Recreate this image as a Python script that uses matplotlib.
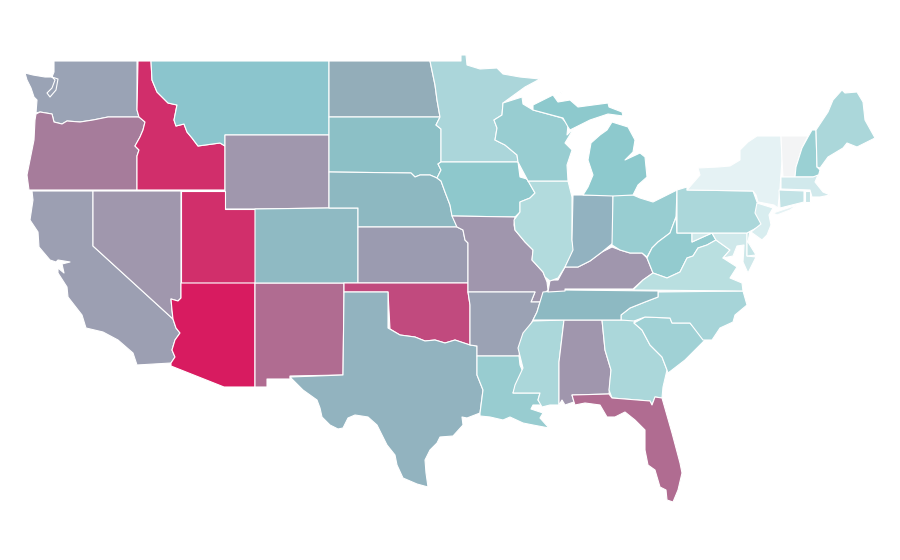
import matplotlib
matplotlib.use("Agg")
import matplotlib.pyplot as plt
from matplotlib.patches import Polygon

# State outlines (map units), and each state's shade
WA = [(54,61),(137,61),(137,110),(139,117),(108,117),(93,120),(80,122),(67,121),(62,124),(54,122),(52,114),(40,112),(36,113),(37,100),(34,97),(31,88),(27,80),(25,73),(33,75),(45,77),(52,77),(58,79),(56,90),(50,97),(47,93),(52,88),(55,80),(52,77),(54,72)]
OR = [(36,114),(40,112),(52,114),(54,122),(62,124),(67,121),(80,122),(93,120),(108,117),(139,117),(145,122),(143,130),(140,137),(135,146),(139,150),(137,156),(137,190),(29,190),(27,175),(30,160),(34,140),(35,120)]
ID = [(138,61),(151,61),(152,80),(157,92),(168,103),(177,105),(174,120),(176,126),(184,124),(187,132),(192,138),(198,146),(220,143),(225,146),(225,190),(137,190),(137,156),(139,150),(135,146),(140,137),(143,130),(145,122),(139,117),(137,110)]
MT = [(151,61),(329,61),(329,135),(225,135),(225,146),(220,143),(198,146),(192,138),(187,132),(184,124),(176,126),(174,120),(177,105),(168,103),(157,92),(152,80)]
WY = [(225,135),(329,135),(329,208),(255,209),(225,209)]
CA = [(32,191),(93,191),(93,246),(173,319),(176,328),(180,333),(175,340),(172,350),(175,357),(171,363),(137,365),(133,353),(118,340),(103,332),(86,328),(82,315),(68,297),(67,287),(58,273),(58,268),(64,273),(62,264),(70,262),(58,260),(56,262),(50,260),(39,247),(38,232),(30,220),(33,200)]
NV = [(93,191),(181,191),(181,298),(178,301),(171,299),(172,310),(173,319),(93,246)]
UT = [(181,191),(225,191),(225,209),(255,209),(255,283),(181,283)]
AZ = [(181,283),(255,283),(255,387),(224,387),(171,366),(171,363),(175,357),(172,350),(175,340),(180,333),(176,328),(173,319),(172,310),(171,299),(178,301),(181,298)]
NM = [(255,283),(344,283),(344,292),(343,375),(290,376),(290,379),(267,379),(267,387),(255,387)]
CO = [(255,209),(329,208),(358,208),(358,283),(255,283)]
ND = [(329,61),(430,61),(435,85),(437,100),(440,117),(329,117)]
SD = [(329,117),(440,117),(436,125),(441,129),(441,162),(438,164),(441,170),(437,178),(430,175),(420,175),(415,177),(411,173),(329,172)]
NE = [(329,172),(411,173),(415,177),(420,175),(430,175),(437,178),(441,181),(445,192),(450,205),(452,215),(457,227),(358,227),(358,208),(329,208)]
KS = [(358,227),(457,227),(463,230),(465,240),(468,243),(468,283),(358,283)]
OK = [(344,283),(468,283),(468,292),(470,305),(470,345),(455,340),(445,343),(435,340),(425,341),(415,337),(400,335),(390,329),(388,292),(344,292)]
TX = [(344,292),(388,292),(388,328),(400,335),(415,337),(425,341),(435,340),(445,343),(455,340),(470,345),(477,346),(477,375),(483,390),(480,413),(467,418),(462,417),(463,425),(453,436),(440,437),(437,443),(430,450),(425,460),(426,473),(428,487),(417,484),(403,478),(397,465),(395,455),(387,445),(377,425),(368,417),(355,415),(348,418),(343,428),(338,429),(330,425),(322,417),(320,408),(317,400),(303,390),(290,377),(343,375)]
MN = [(430,61),(461,61),(461,55),(466,55),(467,65),(480,69),(497,68),(503,74),(520,77),(540,79),(525,87),(503,103),(502,115),(494,120),(497,128),(495,140),(505,145),(517,155),(518,162),(441,162),(441,129),(436,125),(440,117),(437,100),(435,85)]
IA = [(441,162),(518,162),(520,177),(527,179),(535,193),(530,198),(520,202),(520,212),(515,217),(452,216),(450,205),(445,192),(441,181),(437,178),(441,170),(438,164)]
MO = [(452,216),(515,217),(514,225),(515,230),(525,242),(533,250),(532,260),(543,272),(547,282),(548,290),(543,295),(540,302),(531,302),(535,292),(468,292),(468,243),(465,240),(463,230),(457,227)]
AR = [(468,292),(535,292),(531,302),(540,302),(537,312),(533,320),(525,335),(520,350),(519,356),(477,356),(477,346),(470,345),(470,305)]
LA = [(477,356),(519,356),(520,365),(523,372),(516,385),(513,393),(540,393),(538,400),(543,405),(533,405),(531,409),(543,413),(540,418),(549,428),(533,425),(523,423),(510,417),(503,420),(490,417),(480,416),(480,413),(483,390),(477,375)]
MS = [(533,321),(564,320),(559,362),(559,405),(550,405),(542,407),(538,400),(540,393),(513,393),(515,385),(523,368),(518,348),(523,333),(528,327)]
AL = [(564,320),(602,320),(605,350),(611,370),(609,394),(572,395),(574,402),(565,405),(562,400),(559,405),(559,362)]
GA = [(602,320),(635,320),(634,323),(642,330),(650,345),(662,357),(667,370),(663,387),(662,398),(655,397),(652,405),(650,401),(612,398),(609,390),(611,370),(605,350)]
FL = [(572,395),(609,394),(612,398),(650,401),(652,405),(655,397),(662,398),(672,433),(680,463),(682,473),(678,490),(673,502),(667,500),(666,490),(660,487),(655,470),(648,465),(645,450),(645,430),(635,420),(625,412),(615,417),(607,417),(600,405),(585,403),(575,405),(574,402)]
SC = [(634,323),(645,317),(670,318),(672,323),(690,323),(705,340),(695,350),(685,360),(672,370),(668,373),(667,370),(662,357),(650,345),(642,330)]
NC = [(658,292),(743,291),(747,305),(735,315),(733,322),(720,328),(712,340),(703,340),(690,323),(672,323),(670,318),(645,317),(634,321),(621,320),(621,315),(630,308),(645,302),(658,297)]
TN = [(543,292),(565,290),(658,291),(658,297),(645,302),(630,308),(621,315),(621,320),(533,320),(537,312),(540,302)]
KY = [(548,292),(550,280),(558,280),(565,267),(578,267),(590,261),(602,252),(612,247),(620,250),(630,253),(642,253),(647,258),(653,273),(643,280),(633,289),(565,289),(565,291)]
IL = [(528,181),(568,181),(572,197),(572,240),(574,250),(565,267),(558,278),(550,281),(545,277),(543,272),(532,260),(533,250),(525,242),(515,230),(514,220),(520,212),(520,202),(530,198),(535,193),(527,179)]
IN = [(573,195),(613,195),(613,243),(602,252),(590,261),(578,267),(565,267),(573,250),(572,240)]
OH = [(613,195),(633,195),(640,198),(653,202),(677,190),(676,217),(670,233),(658,242),(652,248),(647,257),(642,253),(630,253),(620,250),(612,245)]
WV = [(676,217),(677,233),(692,233),(692,242),(703,237),(712,233),(716,240),(707,245),(698,248),(693,256),(687,258),(680,272),(667,278),(653,273),(647,258),(652,248),(658,242),(670,233)]
VA = [(633,290),(643,280),(653,273),(667,278),(680,272),(687,258),(693,256),(698,248),(707,245),(716,240),(730,250),(723,258),(737,267),(730,278),(742,283),(743,291)]
MD = [(692,233),(747,233),(747,256),(756,257),(752,265),(748,273),(743,262),(744,245),(737,246),(733,256),(723,258),(730,250),(716,240),(712,233),(703,237),(692,242)]
DE = [(747,233),(750,231),(748,242),(756,255),(747,256)]
PA = [(677,190),(687,187),(687,190),(753,191),(757,202),(760,203),(757,210),(762,225),(747,233),(677,233)]
NJ = [(757,203),(773,208),(769,215),(771,225),(767,235),(762,240),(751,232),(761,224),(755,213)]
NY = [(687,190),(700,175),(698,168),(718,167),(730,166),(740,160),(740,150),(748,142),(757,136),(781,136),(782,160),(780,188),(778,208),(774,205),(758,202),(756,195),(753,191)]
LI = [(773,213),(797,205),(790,210),(777,215)]
VT = [(781,136),(808,136),(802,148),(796,167),(795,177),(783,177),(782,160)]
NH = [(812,130),(816,130),(817,167),(820,170),(818,177),(795,177),(796,167),(802,148),(808,137)]
ME = [(816,130),(828,112),(833,100),(842,90),(845,93),(857,92),(863,102),(865,120),(875,138),(857,147),(847,143),(843,148),(828,157),(820,168),(817,167)]
MA = [(781,177),(813,177),(818,175),(815,182),(823,192),(830,195),(820,197),(812,197),(810,190),(781,189)]
CT = [(779,190),(804,191),(804,202),(780,208)]
RI = [(805,191),(810,191),(810,202),(805,202)]
WI = [(503,103),(522,97),(523,104),(533,110),(562,118),(568,125),(567,135),(574,128),(565,143),(572,150),(567,165),(568,181),(528,181),(527,179),(518,162),(517,155),(505,145),(495,140),(497,128),(494,120),(502,115)]
MI_UP = [(533,105),(553,95),(558,102),(570,100),(578,107),(608,103),(609,107),(622,112),(623,116),(608,114),(590,120),(580,125),(570,130),(568,127),(563,118),(533,110)]
MI_KW = [(558,95),(568,90),(560,93)]
MI_LP = [(612,122),(628,127),(635,140),(633,152),(625,160),(640,153),(645,157),(647,177),(638,185),(633,195),(613,196),(583,195),(588,187),(593,175),(588,160),(591,143),(600,135),(607,130)]

state_outlines = [
    ("Washington", WA), ("Oregon", OR), ("Idaho", ID), ("Montana", MT), ("Wyoming", WY),
    ("California", CA), ("Nevada", NV), ("Utah", UT), ("Arizona", AZ), ("New Mexico", NM),
    ("Colorado", CO), ("North Dakota", ND), ("South Dakota", SD), ("Nebraska", NE),
    ("Kansas", KS), ("Oklahoma", OK), ("Texas", TX), ("Minnesota", MN), ("Iowa", IA),
    ("Missouri", MO), ("Arkansas", AR), ("Louisiana", LA), ("Mississippi", MS),
    ("Alabama", AL), ("Georgia", GA), ("Florida", FL), ("South Carolina", SC),
    ("North Carolina", NC), ("Tennessee", TN), ("Kentucky", KY), ("Illinois", IL),
    ("Indiana", IN), ("Ohio", OH), ("West Virginia", WV), ("Virginia", VA), ("Maryland", MD),
    ("Delaware", DE), ("Pennsylvania", PA), ("New Jersey", NJ), ("New York", NY),
    ("New York", LI), ("Vermont", VT), ("New Hampshire", NH), ("Maine", ME),
    ("Massachusetts", MA), ("Connecticut", CT), ("Rhode Island", RI), ("Wisconsin", WI),
    ("Michigan", MI_UP), ("Michigan", MI_KW), ("Michigan", MI_LP),
]

state_shades = {
    "Washington": "#9aa3b5", "Oregon": "#a67c9b", "California": "#9c9fb2", "Nevada": "#a097ad",
    "Idaho": "#d12e6b", "Montana": "#8bc5cd", "Wyoming": "#a097ad", "Utah": "#d12f6b",
    "Arizona": "#d81b60", "New Mexico": "#b06c91", "Colorado": "#8fbac3", "North Dakota": "#93adb9",
    "South Dakota": "#8cc0c6", "Nebraska": "#8db8c1", "Kansas": "#9b9bb0", "Oklahoma": "#c14a7e",
    "Texas": "#92b3bf", "Minnesota": "#abd6da", "Iowa": "#8ec8cc", "Missouri": "#a096ad",
    "Arkansas": "#9ba2b4", "Louisiana": "#98ccd0", "Wisconsin": "#98cdd1", "Illinois": "#b2dbdd",
    "Michigan": "#8dc9cd", "Indiana": "#92b2c0", "Ohio": "#98cdd1", "Kentucky": "#a096ad",
    "Tennessee": "#8db9c2", "Mississippi": "#abd7da", "Alabama": "#a096ad", "Georgia": "#abd7da",
    "Florida": "#b06c91", "South Carolina": "#a0d1d5", "North Carolina": "#a6d4d8",
    "Virginia": "#b9dfe0", "West Virginia": "#93cbcf", "Pennsylvania": "#abd7da", "New York": "#e5f2f4",
    "Vermont": "#f3f4f5", "New Hampshire": "#9ad0d3", "Maine": "#abd7da", "Massachusetts": "#d1e9ec",
    "Connecticut": "#c3e3e6", "Rhode Island": "#c8e5e7", "New Jersey": "#d8edef",
    "Delaware": "#c5e4e6", "Maryland": "#cfe8ea",
}

fig = plt.figure(figsize=(9, 5.6), dpi=100, facecolor="white")
ax = fig.add_axes([0, 0, 1, 1])
ax.set_xlim(0, 900)
ax.set_ylim(560, 0)
ax.axis("off")

for name, outline in state_outlines:
    ax.add_patch(Polygon(outline, closed=True, facecolor=state_shades[name],
                         edgecolor="white", linewidth=0.8, joinstyle="round"))

fig.savefig("out.png", dpi=100, facecolor="white")
